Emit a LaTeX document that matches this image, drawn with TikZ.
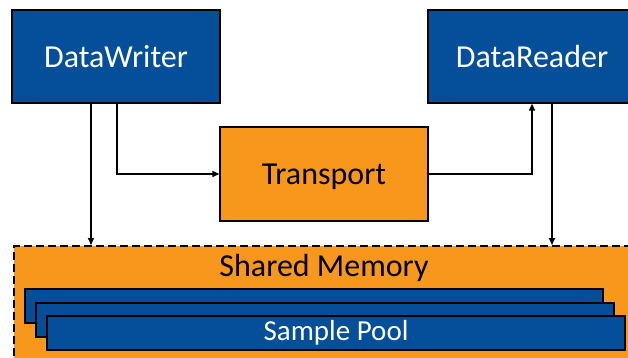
\documentclass[tikz,border=0pt]{standalone}
\usepackage{fontspec}
\setmainfont{Carlito}
\usetikzlibrary{arrows.meta}
\definecolor{shmblue}{RGB}{4,78,154}
\definecolor{shmorange}{RGB}{247,152,29}
\tikzset{
    entity/.style={draw=black, line width=1.4pt, fill=shmblue, text=white,
        minimum width=208pt, minimum height=93pt, inner sep=0pt,
        font=\fontsize{32}{38}\selectfont},
    transportbox/.style={entity, fill=shmorange, text=black, minimum height=94pt},
    poolbox/.style={draw=black, line width=1.4pt, fill=shmblue, text=white,
        minimum width=578pt, minimum height=34pt, inner sep=0pt,
        font=\fontsize{29}{34}\selectfont},
    flow/.style={line width=1.6pt, -{Triangle[length=7pt,width=6pt]}}
}
\begin{document}
\begin{tikzpicture}[x=1pt, y=-1pt]
    \useasboundingbox (0,0) rectangle (628,358);
    \clip (0,0) rectangle (628,358);

    % Entities
    \node[entity] (writer) at (116,56.5) {DataWriter};
    \node[entity] (reader) at (532,56.5) {DataReader};
    \node[transportbox] (transport) at (324,174) {\raisebox{-3pt}[\height][\depth]{Transport}};

    % Shared memory region
    \node[draw=black, dashed, dash pattern=on 8pt off 4pt, line width=1.6pt,
        fill=shmorange, minimum width=622pt, minimum height=130pt,
        anchor=north west, inner sep=0pt] (shared) at (13,245) {};
    \node[font=\fontsize{32}{38}\selectfont] (sharedlabel) at (324,268) {Shared Memory};

    % Sample pool stack
    \node[poolbox] (pool1) at (314,306) {};
    \node[poolbox] (pool2) at (325,320) {};
    \node[poolbox] (pool3) at (336,333) {Sample Pool};

    % Connectors
    \draw[flow] ([xshift=-25pt]writer.south) -- ([xshift=-25pt]writer.south |- shared.north);
    \draw[flow] ([xshift=1pt]writer.south) |- (transport.west);
    \draw[flow] (transport.east) -| (reader.south);
    \draw[flow] ([xshift=20pt]reader.south) -- ([xshift=20pt]reader.south |- shared.north);
\end{tikzpicture}
\end{document}
